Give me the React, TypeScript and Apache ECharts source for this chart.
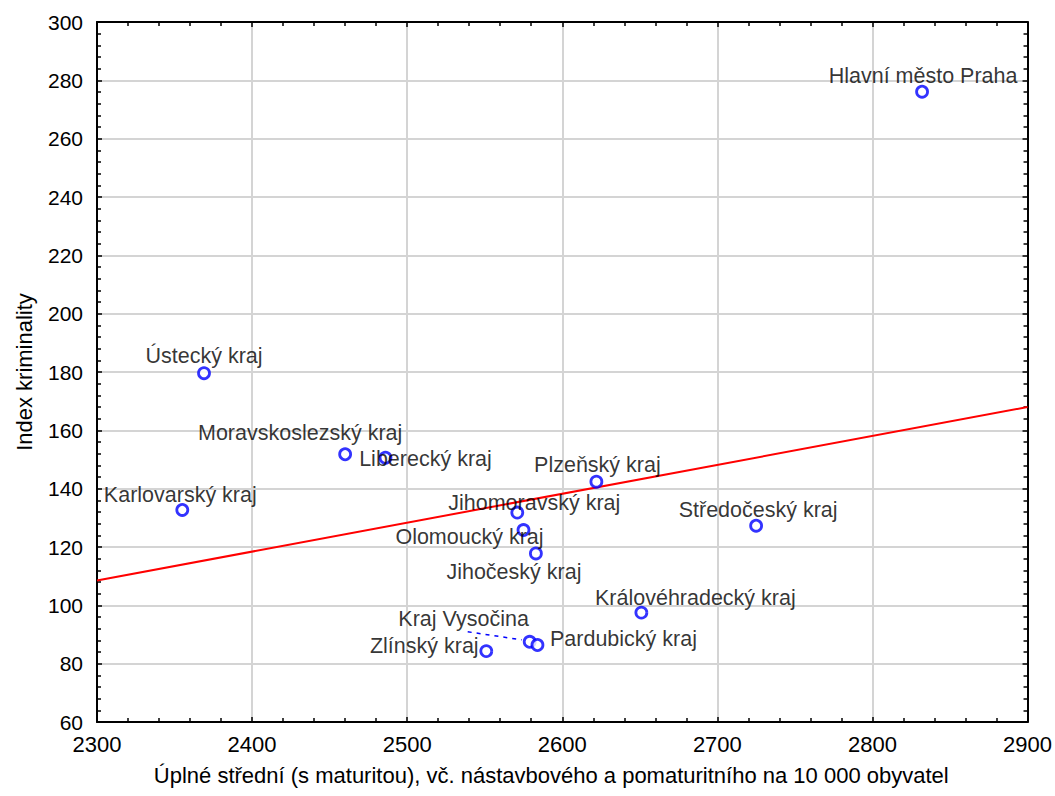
import React, { useEffect, useRef } from "react";
import * as echarts from "echarts";

const regions = [
  "Hlavní město Praha",
  "Ústecký kraj",
  "Moravskoslezský kraj",
  "Liberecký kraj",
  "Karlovarský kraj",
  "Plzeňský kraj",
  "Jihomoravský kraj",
  "Olomoucký kraj",
  "Jihočeský kraj",
  "Středočeský kraj",
  "Královéhradecký kraj",
  "Kraj Vysočina",
  "Zlínský kraj",
  "Pardubický kraj",
];
const educationValues = [2832, 2369, 2460, 2486, 2355, 2622, 2571, 2575, 2583, 2725, 2651, 2579, 2551, 2584];
const crimeIndex = [276.1, 179.6, 151.8, 150.6, 132.7, 142.4, 131.8, 125.8, 117.8, 127.3, 97.5, 87.5, 84.3, 86.4];
const fitX = [2300, 2900];
const fitY = [108.5, 168];

// label displacement (styling only), [dx, dy] of the label centre from the point
const labelShift: Record<string, [number, number]> = {
  "Hlavní město Praha": [1, -16],
  "Ústecký kraj": [0, -17],
  "Moravskoslezský kraj": [-45, -21],
  "Liberecký kraj": [40, 1],
  "Karlovarský kraj": [-2, -15],
  "Plzeňský kraj": [1, -17],
  "Jihomoravský kraj": [17, -10],
  "Olomoucký kraj": [-54, 7],
  "Jihočeský kraj": [-22, 19],
  "Středočeský kraj": [2, -16],
  "Královéhradecký kraj": [54, -15],
  "Kraj Vysočina": [-66, -23],
  "Zlínský kraj": [-62, -5],
  "Pardubický kraj": [86, -6],
};

const FONT = "'Liberation Sans', Arial, sans-serif";

export default function App() {
  const ref = useRef<HTMLDivElement>(null);
  useEffect(() => {
    if (!ref.current) return;
    const chart = echarts.init(ref.current, null, { renderer: "svg" });
    const tickCommon = {
      axisLine: { show: true, lineStyle: { color: "#000", width: 2 } },
      axisTick: { show: true, inside: true, length: 5, lineStyle: { color: "#000", width: 1.5 } },
      minorTick: { show: true, splitNumber: 5, length: 4, lineStyle: { color: "#000", width: 1.5 } },
    };
    const points = regions.map((n, i) => ({
      name: n,
      value: [educationValues[i], crimeIndex[i]],
    }));
    chart.setOption({
      animation: false,
      backgroundColor: "#fff",
      grid: { left: 97, right: 25, top: 22, bottom: 74 },
      xAxis: [
        {
          type: "value",
          min: 2300,
          max: 2900,
          interval: 100,
          name: "Úplné střední (s maturitou), vč. nástavbového a pomaturitního na 10 000 obyvatel",
          nameLocation: "middle",
          nameGap: 42,
          nameTextStyle: { fontFamily: FONT, fontSize: 22, color: "#000", padding: [0, 22, 0, 0] },
          axisLabel: { fontFamily: FONT, fontSize: 22, color: "#000", margin: 11, formatter: (v: number) => String(v) },
          splitLine: { show: true, lineStyle: { color: "#d4d4d4", width: 2 } },
          ...tickCommon,
        },
        {
          type: "value",
          position: "top",
          min: 2300,
          max: 2900,
          interval: 100,
          axisLabel: { show: false },
          splitLine: { show: false },
          ...tickCommon,
        },
      ],
      yAxis: [
        {
          type: "value",
          min: 60,
          max: 300,
          interval: 20,
          name: "Index kriminality",
          nameLocation: "middle",
          nameGap: 62,
          nameTextStyle: { fontFamily: FONT, fontSize: 22, color: "#000" },
          axisLabel: { fontFamily: FONT, fontSize: 21, color: "#000", margin: 14, formatter: (v: number) => String(v) },
          splitLine: { show: true, lineStyle: { color: "#d4d4d4", width: 2 } },
          ...tickCommon,
        },
        {
          type: "value",
          position: "right",
          min: 60,
          max: 300,
          interval: 20,
          axisLabel: { show: false },
          splitLine: { show: false },
          ...tickCommon,
        },
      ],
      series: [
        {
          type: "line",
          data: fitX.map((x, i) => [x, fitY[i]]),
          symbol: "none",
          lineStyle: { color: "#ff0000", width: 2 },
          silent: true,
          z: 2,
        },
        {
          type: "scatter",
          data: points,
          symbol: "circle",
          symbolSize: 11,
          itemStyle: { color: "#fff", borderColor: "#0000ff", borderWidth: 2.8 },
          label: {
            show: true,
            position: "inside",
            formatter: (p: any) => p.name,
            fontFamily: FONT,
            fontSize: 21.5,
            color: "#000",
          },
          labelLayout: (params: any) => {
            const n = regions[params.dataIndex];
            const s = labelShift[n] || [0, 0];
            return { dx: s[0], dy: s[1] };
          },
          z: 3,
        },
      ],
    });
    // dashed leader line from the "Kraj Vysočina" label to its point
    const vi = regions.indexOf("Kraj Vysočina");
    const p = chart.convertToPixel({ gridIndex: 0 }, [educationValues[vi], crimeIndex[vi]]) as number[];
    chart.setOption({
      graphic: [
        {
          type: "line",
          shape: { x1: p[0] - 62, y1: p[1] - 10, x2: p[0] - 8, y2: p[1] - 2 },
          style: { stroke: "#0000ff", lineWidth: 1.5, lineDash: [4, 5] },
          z: 10,
        },
      ],
    });
    return () => chart.dispose();
  }, []);
  return (
    <div
      ref={ref}
      style={{ position: "absolute", left: 0, top: 0, width: 1055, height: 796 }}
    />
  );
}
